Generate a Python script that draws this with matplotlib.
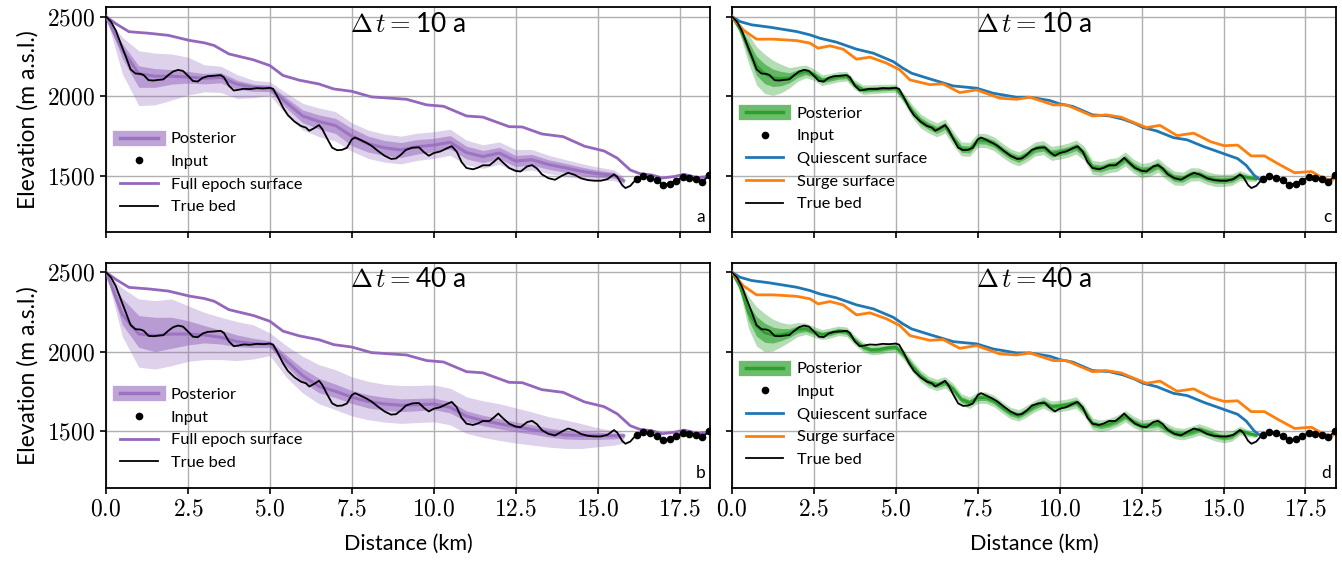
import numpy as np
import matplotlib
matplotlib.use("Agg")
import matplotlib.pyplot as plt
from matplotlib.lines import Line2D
from matplotlib.ticker import FuncFormatter

plt.rcParams["font.family"] = ["Lato", "DejaVu Sans"]
plt.rcParams["mathtext.fontset"] = "cm"
plt.rcParams["axes.linewidth"] = 1.3

# ---------------------------------------------------------------------
# Data (distance in km, elevation in m a.s.l.)
# ---------------------------------------------------------------------
bed_x = [0.0, 0.15, 0.3, 0.45, 0.6, 0.75, 0.9, 1.05, 1.15, 1.3, 1.45, 1.6, 1.75, 1.9,
         2.05, 2.2, 2.35, 2.5, 2.65, 2.8, 2.95, 3.1, 3.3, 3.5, 3.6, 3.75, 3.9, 4.05,
         4.2, 4.4, 4.6, 4.8, 5.0, 5.1, 5.25, 5.4, 5.55, 5.75, 5.95, 6.1, 6.2, 6.35,
         6.5, 6.6, 6.75, 6.9, 7.05, 7.2, 7.35, 7.5, 7.6, 7.75, 7.95, 8.1, 8.3, 8.5,
         8.7, 8.85, 9.0, 9.15, 9.35, 9.55, 9.7, 9.85, 10.0, 10.2, 10.4, 10.55, 10.7,
         10.85, 11.0, 11.2, 11.35, 11.5, 11.7, 11.85, 11.97, 12.1, 12.3, 12.5, 12.65,
         12.85, 13.0, 13.15, 13.3, 13.5, 13.7, 13.9, 14.1, 14.3, 14.5, 14.7, 14.9,
         15.1, 15.3, 15.5, 15.6, 15.75, 15.85, 16.0, 16.1]
bed_y = [2500, 2468, 2412, 2330, 2250, 2168, 2142, 2140, 2132, 2100, 2098, 2102, 2105, 2132,
         2155, 2165, 2158, 2128, 2095, 2092, 2115, 2125, 2128, 2132, 2118, 2065, 2035, 2040,
         2046, 2044, 2050, 2048, 2052, 2045, 1990, 1928, 1880, 1840, 1812, 1802, 1782, 1798,
         1818, 1792, 1732, 1676, 1660, 1662, 1675, 1728, 1740, 1726, 1706, 1688, 1655, 1625,
         1605, 1608, 1632, 1662, 1676, 1678, 1648, 1625, 1642, 1652, 1672, 1685, 1652,
         1585, 1548, 1540, 1550, 1565, 1565, 1590, 1612, 1585, 1548, 1530, 1526,
         1558, 1566, 1545, 1508, 1484, 1474, 1498, 1518, 1505, 1483, 1472, 1468,
         1468, 1478, 1508, 1492, 1440, 1422, 1436, 1460]

input_x = [16.2, 16.4, 16.6, 16.8, 17.0, 17.2, 17.4, 17.6, 17.8, 18.0, 18.2, 18.4]
input_y = [1478, 1495, 1488, 1470, 1443, 1450, 1468, 1492, 1484, 1480, 1462, 1502]

full_x = [0.0, 0.3, 0.7, 1.31, 1.9, 2.55, 3.0, 3.3, 3.75, 4.5, 5.0, 5.4, 5.9, 6.5, 6.95,
          7.5, 8.1, 9.17, 9.78, 10.3, 11.0, 11.5, 12.3, 12.7, 13.3, 13.95, 14.6, 15.2,
          15.6, 16.0, 16.3, 16.66, 16.97, 17.33, 17.64, 18.04, 18.4]
full_y = [2500, 2455, 2405, 2395, 2382, 2350, 2335, 2318, 2265, 2228, 2192, 2130, 2100,
          2076, 2045, 2030, 1995, 1980, 1945, 1936, 1875, 1868, 1808, 1806, 1762, 1745,
          1685, 1655, 1610, 1535, 1512, 1504, 1485, 1494, 1508, 1488, 1495]

quiet_x = [0.0, 0.24, 0.6, 1.16, 1.97, 2.38, 2.68, 3.19, 3.8, 4.31, 4.92, 5.22, 5.48, 6.04,
           6.75, 7.46, 7.97, 8.68, 9.09, 9.7, 10.0, 10.4, 11.0, 11.5, 11.93, 12.28, 12.55,
           12.96, 13.47, 13.89, 14.4, 14.91, 15.43, 15.69, 15.94, 16.15]
quiet_y = [2500, 2469, 2448, 2433, 2406, 2385, 2364, 2339, 2295, 2270, 2217, 2175, 2144,
           2108, 2064, 2050, 2018, 1993, 1993, 1972, 1951, 1935, 1882, 1876, 1855, 1829,
           1802, 1781, 1739, 1725, 1682, 1645, 1607, 1565, 1501, 1469]

surge_x = [0.0, 0.34, 0.75, 1.26, 1.97, 2.38, 2.63, 2.99, 3.39, 3.8, 4.21, 4.72, 5.12, 5.43,
           6.04, 6.44, 6.95, 7.46, 8.17, 8.68, 9.09, 9.8, 10.2, 11.0, 11.42, 11.88, 12.13,
           12.65, 13.06, 13.58, 14.09, 14.61, 15.02, 15.43, 15.84, 16.25, 16.66, 17.17,
           17.68, 17.99, 18.3, 18.45]
surge_y = [2500, 2416, 2358, 2358, 2349, 2333, 2301, 2316, 2295, 2232, 2245, 2207, 2165,
           2102, 2072, 2077, 2022, 2039, 1987, 1980, 1993, 1945, 1945, 1875, 1882, 1867,
           1845, 1802, 1816, 1752, 1767, 1713, 1688, 1692, 1624, 1624, 1575, 1518, 1526,
           1490, 1469, 1500]

# purple posterior (panels a, b): mean and band offsets, 0.5 km grid
post_x = [0.0, 0.5, 1.0, 1.5, 2.0, 2.5, 3.0, 3.5, 4.0, 4.5, 5.0, 5.5, 6.0, 6.5, 7.0, 7.5,
          8.0, 8.5, 9.0, 9.5, 10.0, 10.5, 11.0, 11.5, 12.0, 12.5, 13.0, 13.5, 14.0, 14.5,
          15.0, 15.5, 15.8]
mean_a = [2500, 2290, 2140, 2125, 2125, 2120, 2112, 2118, 2075, 2055, 2050, 1960, 1875,
          1840, 1815, 1748, 1700, 1675, 1662, 1682, 1692, 1710, 1645, 1620, 1642, 1592,
          1600, 1570, 1550, 1528, 1512, 1503, 1468]
hi1_a = [0, 40, 50, 48, 42, 35, 30, 30, 25, 20, 20, 30, 38, 42, 45, 50, 48, 46, 46, 45,
         42, 42, 40, 38, 36, 35, 33, 30, 28, 26, 22, 18, 12]
hi2_a = [0, 80, 145, 145, 140, 125, 85, 70, 60, 45, 40, 60, 80, 85, 88, 84, 86, 86, 86, 85,
         84, 82, 78, 74, 70, 72, 64, 58, 52, 48, 42, 34, 24]
lo1_a = [0, 55, 85, 70, 50, 38, 35, 35, 32, 25, 22, 35, 42, 47, 50, 60, 52, 48, 48, 46,
         42, 42, 40, 38, 36, 35, 33, 30, 28, 26, 22, 18, 12]
lo2_a = [0, 150, 200, 180, 150, 113, 85, 95, 90, 65, 45, 75, 88, 95, 98, 94, 92, 90, 88,
         86, 84, 82, 78, 74, 70, 70, 64, 58, 52, 48, 42, 34, 24]

mean_b = [2500, 2235, 2112, 2102, 2112, 2112, 2106, 2091, 2064, 2051, 2049, 1945, 1850,
          1783, 1752, 1715, 1688, 1672, 1664, 1667, 1672, 1651, 1595, 1568, 1548, 1528,
          1512, 1493, 1478, 1474, 1473, 1473, 1473]
hi1_b = [0, 100, 116, 115, 105, 84, 59, 45, 42, 34, 20, 35, 45, 50, 45, 42, 42, 42, 40, 40,
         38, 36, 34, 33, 32, 31, 30, 28, 26, 25, 22, 16, 10]
hi2_b = [0, 165, 220, 220, 220, 178, 142, 126, 126, 118, 70, 94, 122, 136, 136, 128, 126,
         124, 124, 122, 120, 120, 122, 124, 126, 120, 110, 100, 95, 75, 50, 30, 18]
lo1_b = [0, 65, 84, 101, 90, 69, 50, 42, 32, 25, 22, 35, 40, 40, 40, 40, 41, 40, 40, 38,
         36, 35, 33, 32, 32, 31, 30, 28, 26, 25, 24, 20, 15]
lo2_b = [0, 140, 209, 210, 199, 172, 155, 140, 119, 96, 73, 105, 109, 110, 116, 118, 115,
         114, 114, 112, 112, 110, 108, 106, 105, 102, 98, 92, 85, 82, 70, 60, 45]

# green posterior (panels c, d): mean and spread, 0.25 km grid
green_x = [0.0, 0.25, 0.5, 0.75, 1.0, 1.25, 1.5, 1.75, 2.0, 2.25, 2.5, 2.75, 3.0, 3.25,
           3.5, 3.75, 4.0, 4.25, 4.5, 4.75, 5.0, 5.25, 5.5, 5.75, 6.0, 6.25, 6.5, 6.75,
           7.0, 7.25, 7.5, 7.75, 8.0, 8.25, 8.5, 8.75, 9.0, 9.25, 9.5, 9.75, 10.0, 10.25,
           10.5, 10.75, 11.0, 11.25, 11.5, 11.75, 12.0, 12.25, 12.5, 12.75, 13.0, 13.25,
           13.5, 13.75, 14.0, 14.25, 14.5, 14.75, 15.0, 15.25, 15.5, 15.75, 16.0]
mean_c = [2500, 2420, 2300, 2190, 2140, 2115, 2110, 2115, 2140, 2155, 2135, 2100, 2110,
          2122, 2125, 2070, 2040, 2043, 2046, 2048, 2050, 1985, 1905, 1845, 1812, 1788,
          1812, 1735, 1668, 1665, 1722, 1720, 1700, 1660, 1625, 1605, 1632, 1668, 1676,
          1640, 1648, 1660, 1680, 1640, 1552, 1545, 1562, 1570, 1605, 1560, 1532, 1540,
          1565, 1520, 1485, 1480, 1508, 1508, 1485, 1472, 1470, 1475, 1500, 1488, 1480]
sd_c = [0, 18, 45, 60, 62, 55, 45, 32, 24, 20, 18, 17, 16, 16, 15, 15, 15, 14, 14, 13, 13,
        16, 20, 22, 22, 22, 22, 22, 22, 22, 22, 22, 22, 22, 22, 22, 22, 22, 22, 22, 22, 22,
        22, 22, 22, 22, 22, 22, 22, 22, 22, 22, 22, 22, 22, 21, 21, 20, 20, 20, 19, 18, 16,
        12, 8]
mean_d = [2500, 2410, 2250, 2160, 2120, 2105, 2108, 2118, 2140, 2145, 2125, 2108, 2118,
          2132, 2126, 2072, 2030, 2012, 2015, 2025, 2030, 1980, 1910, 1850, 1810, 1792,
          1808, 1765, 1700, 1680, 1712, 1712, 1690, 1650, 1615, 1600, 1628, 1660, 1682,
          1655, 1660, 1668, 1682, 1630, 1548, 1535, 1545, 1565, 1595, 1560, 1535, 1540,
          1548, 1515, 1490, 1482, 1495, 1512, 1495, 1475, 1462, 1470, 1505, 1488, 1475]
sd_d = [0, 20, 50, 62, 60, 50, 38, 28, 22, 18, 17, 16, 16, 15, 15, 15, 15, 15, 15, 15, 15,
        16, 18, 18, 18, 18, 18, 18, 18, 18, 18, 18, 18, 18, 18, 18, 18, 18, 18, 18, 18, 18,
        18, 18, 18, 18, 18, 18, 18, 18, 18, 18, 18, 18, 18, 18, 18, 18, 18, 18, 17, 16, 14,
        11, 7]

PURPLE = "#9467bd"
GREEN = "#2ca02c"
BLUE = "#1f77b4"
ORANGE = "#ff7f0e"

x_ticks = [0.0, 2.5, 5.0, 7.5, 10.0, 12.5, 15.0, 17.5]
y_ticks = [1500, 2000, 2500]


def draw_bed(ax):
    ax.plot(bed_x + input_x, bed_y + input_y, color="black", lw=1.3, zorder=5)
    ax.plot(input_x, input_y, "o", color="black", ms=4.5, zorder=6)


def purple_panel(ax, mean, hi1, hi2, lo1, lo2):
    m = np.array(mean, dtype=float)
    ax.fill_between(post_x, m - np.array(lo2), m + np.array(hi2), color=PURPLE,
                    alpha=0.3, lw=0, zorder=2)
    ax.fill_between(post_x, m - np.array(lo1), m + np.array(hi1), color=PURPLE,
                    alpha=0.5, lw=0, zorder=2)
    ax.plot(post_x, m, color=PURPLE, alpha=0.75, lw=2.2, zorder=3)
    ax.plot(full_x, full_y, color=PURPLE, lw=2, zorder=4)
    draw_bed(ax)
    handles = [(Line2D([], [], color=PURPLE, alpha=0.6, lw=11),
                Line2D([], [], color=PURPLE, alpha=0.8, lw=2.5)),
               Line2D([], [], marker="o", color="black", ls="", ms=4.5),
               Line2D([], [], color=PURPLE, lw=2),
               Line2D([], [], color="black", lw=1.3)]
    labels = ["Posterior", "Input", "Full epoch surface", "True bed"]
    ax.legend(handles, labels, loc="center left", bbox_to_anchor=(0.012, 0.262),
              frameon=False, fontsize=11.8, handlelength=2.3, handletextpad=0.8,
              borderaxespad=0, labelspacing=0.5)


def green_panel(ax, mean, sd):
    m = np.array(mean, dtype=float)
    s = np.array(sd, dtype=float)
    ax.fill_between(green_x, m - 2 * s, m + 2 * s, color=GREEN, alpha=0.35, lw=0, zorder=2)
    ax.fill_between(green_x, m - s, m + s, color=GREEN, alpha=0.6, lw=0, zorder=2)
    ax.plot(green_x, m, color=GREEN, lw=2, zorder=3)
    ax.plot(quiet_x, quiet_y, color=BLUE, lw=2, zorder=4)
    ax.plot(surge_x, surge_y, color=ORANGE, lw=2, zorder=4)
    draw_bed(ax)
    handles = [(Line2D([], [], color=GREEN, alpha=0.7, lw=11),
                Line2D([], [], color=GREEN, lw=2.5)),
               Line2D([], [], marker="o", color="black", ls="", ms=4.5),
               Line2D([], [], color=BLUE, lw=2),
               Line2D([], [], color=ORANGE, lw=2),
               Line2D([], [], color="black", lw=1.3)]
    labels = ["Posterior", "Input", "Quiescent surface", "Surge surface", "True bed"]
    ax.legend(handles, labels, loc="center left", bbox_to_anchor=(0.012, 0.326),
              frameon=False, fontsize=11.8, handlelength=2.3, handletextpad=0.8,
              borderaxespad=0, labelspacing=0.5)


fig, axes = plt.subplots(2, 2, figsize=(13.42, 5.62), dpi=100, sharex=True, sharey=True)
fig.subplots_adjust(left=0.079, right=0.9955, bottom=0.132, top=0.9875,
                    wspace=0.0364, hspace=0.136)

purple_panel(axes[0, 0], mean_a, hi1_a, hi2_a, lo1_a, lo2_a)
purple_panel(axes[1, 0], mean_b, hi1_b, hi2_b, lo1_b, lo2_b)
green_panel(axes[0, 1], mean_c, sd_c)
green_panel(axes[1, 1], mean_d, sd_d)

titles = [r"$\Delta\,t=$10 a", r"$\Delta\,t=$40 a"]
letters = [["a", "c"], ["b", "d"]]
for i in range(2):
    for j in range(2):
        ax = axes[i, j]
        ax.set_xlim(0, 18.43)
        ax.set_ylim(1145, 2560)
        ax.set_xticks(x_ticks)
        ax.set_yticks(y_ticks)
        ax.grid(True, color="#b0b0b0", lw=1.0)
        ax.tick_params(labelsize=17, width=1.2, length=4.5)
        ax.xaxis.set_major_formatter(FuncFormatter(lambda v, p: f"${v:.1f}$"))
        ax.yaxis.set_major_formatter(FuncFormatter(lambda v, p: f"${v:.0f}$"))
        ax.text(0.5, 0.98, titles[i], transform=ax.transAxes, ha="center", va="top",
                fontsize=19)
        ax.text(0.992, 0.03, letters[i][j], transform=ax.transAxes, ha="right",
                va="bottom", fontsize=12.5)
    axes[i, 0].set_ylabel("Elevation (m a.s.l.)", fontsize=16.5, labelpad=6)
    axes[1, i].set_xlabel("Distance (km)", fontsize=15.5, labelpad=10)

fig.savefig("out.png", dpi=100)
